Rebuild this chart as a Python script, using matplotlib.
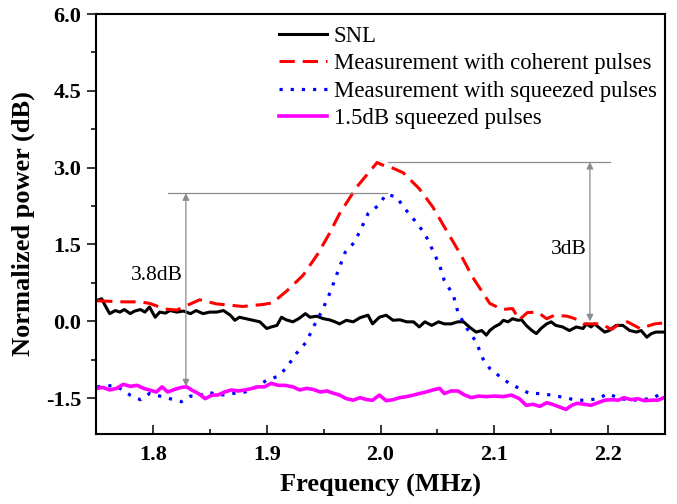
import matplotlib
matplotlib.use("Agg")
import matplotlib.pyplot as plt
from matplotlib.ticker import MultipleLocator

plt.rcParams["font.family"] = ["Liberation Serif", "DejaVu Serif"]

# shot noise limit (black)
snl_freq = [1.751, 1.755, 1.758, 1.762, 1.767, 1.771, 1.775, 1.780, 1.784, 1.789,
            1.793, 1.797, 1.802, 1.806, 1.811, 1.815, 1.821, 1.827, 1.833, 1.838,
            1.844, 1.850, 1.856, 1.862, 1.868, 1.872, 1.876, 1.882, 1.888, 1.894,
            1.900, 1.904, 1.909, 1.913, 1.917, 1.923, 1.928, 1.934, 1.938, 1.944,
            1.950, 1.955, 1.960, 1.964, 1.970, 1.976, 1.982, 1.989, 1.993, 1.999,
            2.005, 2.011, 2.017, 2.023, 2.029, 2.034, 2.039, 2.045, 2.051, 2.056,
            2.062, 2.068, 2.073, 2.078, 2.084, 2.089, 2.093, 2.096, 2.100, 2.105,
            2.108, 2.112, 2.116, 2.121, 2.124, 2.128, 2.133, 2.137, 2.141, 2.146,
            2.150, 2.154, 2.160, 2.166, 2.172, 2.178, 2.181, 2.185, 2.188, 2.193,
            2.197, 2.201, 2.207, 2.213, 2.219, 2.225, 2.229, 2.234, 2.238, 2.242,
            2.248]
snl_val = [0.41, 0.44, 0.31, 0.15, 0.21, 0.18, 0.23, 0.15, 0.20, 0.23,
           0.18, 0.28, 0.08, 0.18, 0.16, 0.21, 0.18, 0.20, 0.15, 0.21,
           0.15, 0.18, 0.18, 0.21, 0.12, 0.02, 0.08, 0.05, 0.02, -0.01,
           -0.14, -0.11, -0.08, 0.08, 0.03, -0.01, 0.05, 0.15, 0.08, 0.10,
           0.05, 0.03, -0.01, -0.05, 0.02, -0.01, 0.07, 0.12, -0.05, 0.08,
           0.12, 0.02, 0.03, -0.01, -0.01, -0.11, -0.01, -0.08, -0.01, -0.05,
           -0.05, -0.01, -0.01, -0.11, -0.21, -0.18, -0.27, -0.18, -0.11, -0.05,
           0.02, -0.01, 0.05, 0.02, 0.03, -0.08, -0.18, -0.24, -0.14, -0.05,
           -0.01, -0.08, -0.11, -0.18, -0.11, -0.14, -0.05, -0.11, -0.05, -0.14,
           -0.21, -0.18, -0.08, -0.08, -0.18, -0.21, -0.18, -0.31, -0.24, -0.21,
           -0.21]

# measurement with coherent pulses (red dashed)
coh_freq = [1.751, 1.774, 1.789, 1.797, 1.811, 1.821, 1.841, 1.856, 1.879, 1.897,
            1.905, 1.918, 1.932, 1.945, 1.955, 1.964, 1.979, 1.991, 1.997, 2.002,
            2.008, 2.020, 2.034, 2.046, 2.058, 2.070, 2.081, 2.096, 2.107, 2.116,
            2.122, 2.129, 2.138, 2.146, 2.153, 2.164, 2.171, 2.178, 2.194, 2.203,
            2.208, 2.217, 2.228, 2.241, 2.250]
coh_val = [0.40, 0.38, 0.38, 0.35, 0.24, 0.22, 0.42, 0.34, 0.29, 0.33,
           0.36, 0.60, 0.90, 1.32, 1.71, 2.10, 2.62, 2.94, 3.10, 3.05,
           3.02, 2.90, 2.59, 2.23, 1.77, 1.32, 0.86, 0.35, 0.23, 0.25,
           0.03, 0.17, 0.18, 0.05, 0.12, 0.10, 0.05, -0.05, -0.05, -0.16,
           -0.08, -0.01, -0.14, -0.05, -0.03]

# measurement with squeezed pulses (blue dotted)
sqz_freq = [1.751, 1.767, 1.780, 1.789, 1.797, 1.808, 1.825, 1.833, 1.840, 1.847,
            1.860, 1.870, 1.881, 1.891, 1.900, 1.909, 1.917, 1.926, 1.935, 1.941,
            1.948, 1.954, 1.958, 1.964, 1.969, 1.977, 1.983, 1.989, 1.998, 2.005,
            2.014, 2.021, 2.030, 2.039, 2.046, 2.052, 2.056, 2.064, 2.068, 2.075,
            2.084, 2.090, 2.096, 2.105, 2.113, 2.122, 2.131, 2.140, 2.150, 2.162,
            2.172, 2.182, 2.191, 2.200, 2.210, 2.222, 2.238, 2.247]
sqz_val = [-1.28, -1.25, -1.44, -1.53, -1.41, -1.47, -1.57, -1.46, -1.47, -1.38,
           -1.44, -1.41, -1.38, -1.28, -1.15, -1.08, -0.92, -0.63, -0.40, -0.11,
           0.18, 0.47, 0.70, 1.06, 1.35, 1.54, 1.81, 2.10, 2.26, 2.48,
           2.43, 2.21, 1.97, 1.71, 1.38, 1.09, 0.80, 0.51, 0.18, -0.11,
           -0.40, -0.73, -0.92, -1.08, -1.21, -1.31, -1.41, -1.41, -1.44, -1.49,
           -1.54, -1.54, -1.51, -1.41, -1.51, -1.54, -1.51, -1.41]

# 1.5dB squeezed pulses (magenta)
ref_freq = [1.751, 1.756, 1.762, 1.768, 1.774, 1.780, 1.786, 1.792, 1.797, 1.803,
            1.808, 1.813, 1.819, 1.825, 1.830, 1.834, 1.840, 1.846, 1.852, 1.857,
            1.863, 1.869, 1.875, 1.881, 1.887, 1.892, 1.898, 1.904, 1.910, 1.916,
            1.923, 1.929, 1.935, 1.941, 1.947, 1.953, 1.958, 1.964, 1.970, 1.976,
            1.982, 1.988, 1.993, 1.999, 2.005, 2.011, 2.017, 2.023, 2.029, 2.034,
            2.040, 2.046, 2.052, 2.056, 2.062, 2.068, 2.074, 2.080, 2.086, 2.093,
            2.100, 2.108, 2.115, 2.122, 2.128, 2.134, 2.140, 2.146, 2.151, 2.157,
            2.163, 2.168, 2.173, 2.179, 2.185, 2.191, 2.197, 2.203, 2.209, 2.214,
            2.220, 2.226, 2.232, 2.238, 2.244, 2.249]
ref_val = [-1.31, -1.29, -1.34, -1.31, -1.23, -1.27, -1.25, -1.31, -1.34, -1.38,
           -1.28, -1.38, -1.33, -1.29, -1.28, -1.34, -1.41, -1.51, -1.44, -1.44,
           -1.38, -1.34, -1.36, -1.34, -1.31, -1.28, -1.28, -1.21, -1.25, -1.25,
           -1.28, -1.34, -1.31, -1.33, -1.38, -1.36, -1.40, -1.44, -1.51, -1.54,
           -1.49, -1.53, -1.54, -1.44, -1.55, -1.53, -1.49, -1.47, -1.44, -1.41,
           -1.38, -1.34, -1.31, -1.41, -1.36, -1.36, -1.44, -1.49, -1.46, -1.47,
           -1.46, -1.47, -1.44, -1.51, -1.64, -1.62, -1.66, -1.59, -1.62, -1.67,
           -1.72, -1.64, -1.60, -1.62, -1.64, -1.59, -1.54, -1.53, -1.54, -1.49,
           -1.53, -1.51, -1.55, -1.54, -1.54, -1.49]

fig = plt.figure(figsize=(6.77, 5.04), dpi=100)
ax = fig.add_axes([0.1418, 0.1389, 0.8405, 0.8333])

ax.plot(snl_freq, snl_val, color="black", lw=2.2, label="SNL")
ax.plot(coh_freq, coh_val, color="red", lw=2.2, dashes=(5, 2.6),
        label="Measurement with coherent pulses")
ax.plot(sqz_freq, sqz_val, color="blue", lw=2.3, dashes=(1, 2.5),
        label="Measurement with squeezed pulses")
ax.plot(ref_freq, ref_val, color="magenta", lw=2.6, label="1.5dB squeezed pulses")

# gain markers
gray = "#8c8c8c"
ax.plot([1.813, 2.006], [2.5, 2.5], color=gray, lw=0.9)
ax.plot([2.007, 2.202], [3.11, 3.11], color=gray, lw=0.9)
arrow = dict(arrowstyle="<|-|>", color=gray, lw=0.9, mutation_scale=10,
             shrinkA=0, shrinkB=0)
ax.annotate("", xy=(1.829, -1.27), xytext=(1.829, 2.5), arrowprops=arrow)
ax.annotate("", xy=(2.184, 0.0), xytext=(2.184, 3.11), arrowprops=arrow)
ax.text(1.826, 0.89, "3.8dB", fontsize=15.5, ha="right", va="center")
ax.text(2.181, 1.41, "3dB", fontsize=15.5, ha="right", va="center")

ax.set_xlim(1.75, 2.25)
ax.set_ylim(-2.2, 6.0)
ax.xaxis.set_major_locator(MultipleLocator(0.1))
ax.xaxis.set_minor_locator(MultipleLocator(0.05))
ax.yaxis.set_major_locator(MultipleLocator(1.5))
ax.yaxis.set_minor_locator(MultipleLocator(0.75))
ax.xaxis.set_major_formatter(plt.FormatStrFormatter("%.1f"))
ax.yaxis.set_major_formatter(plt.FormatStrFormatter("%.1f"))

ax.tick_params(axis="x", which="both", direction="in", width=1.1, pad=8,
               labelsize=16)
ax.tick_params(axis="x", which="major", length=6.5)
ax.tick_params(axis="x", which="minor", length=3.5)
ax.tick_params(axis="y", which="both", direction="out", width=1.1, pad=4,
               labelsize=16)
ax.tick_params(axis="y", which="major", length=6.5)
ax.tick_params(axis="y", which="minor", length=3.5)
for lbl in ax.get_xticklabels() + ax.get_yticklabels():
    lbl.set_fontweight("bold")
for sp in ax.spines.values():
    sp.set_linewidth(1.5)

ax.set_xlabel("Frequency (MHz)", fontsize=19, fontweight="bold", labelpad=6)
ax.set_ylabel("Normalized power (dB)", fontsize=19, fontweight="bold", labelpad=8)

ax.legend(loc="upper left", bbox_to_anchor=(0.322, 0.972), frameon=False,
          fontsize=16.4, handlelength=2.1, handletextpad=0.3, labelspacing=0.28,
          borderpad=0, borderaxespad=0)

fig.savefig("out.png", dpi=100)
